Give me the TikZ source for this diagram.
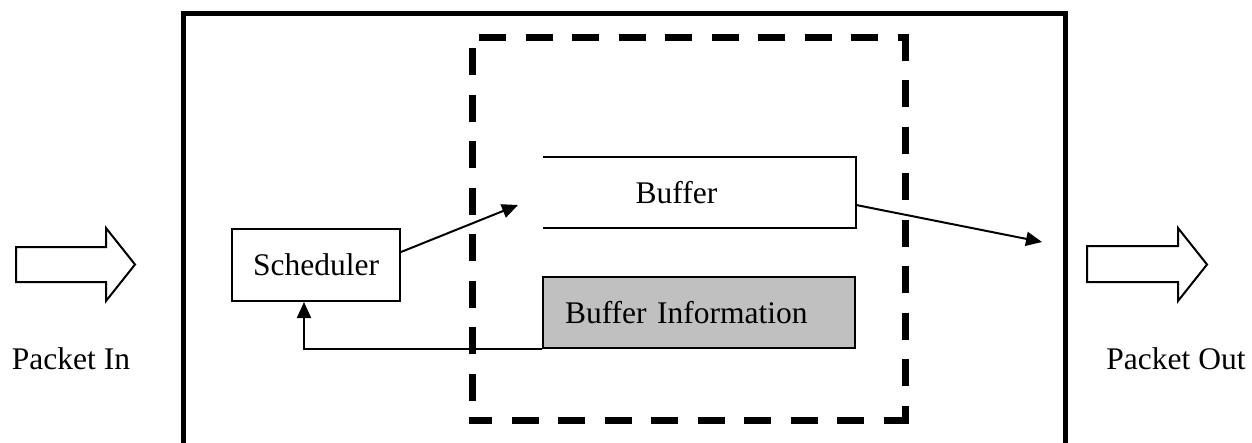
\documentclass[tikz,border=0pt]{standalone}
\usepackage{fontspec}
\setmainfont{Liberation Serif}
\usetikzlibrary{arrows.meta,calc}
\definecolor{infogray}{HTML}{C0C0C0}
\begin{document}
\begin{tikzpicture}[x=1pt,y=-1pt,
  every node/.style={font=\fontsize{31.5}{38}\selectfont, inner sep=0pt},
  thinline/.style={line width=2pt},
  boxed/.style={draw, line width=2pt},
  link/.style={line width=2pt, -{Triangle[length=16pt,width=14pt]}},
  blockarrow/.style={draw, line width=2pt, line join=miter, fill=white},
  bigdash/.style={line width=7pt, dash pattern=on 27pt off 19.5pt}]
\useasboundingbox (0,0) rectangle (1252,442);
\clip (0,0) rectangle (1252,442);

% outer system border (runs past the lower edge)
\draw[line width=5pt] (183,460) -- (183,13) -- (1065,13) -- (1065,460);

% dashed enclosure around the buffer part, one side at a time
\coordinate (dtl) at (472,37);
\coordinate (dtr) at (905,37);
\coordinate (dbr) at (905,420);
\coordinate (dbl) at (472,420);
\draw[bigdash, dash phase=36pt] ([xshift=-3.5pt]dtl) -- ([xshift=3.5pt]dtr);
\draw[bigdash] ([yshift=3.5pt]dtr) -- ([yshift=-3.5pt]dbr);
\draw[bigdash, dash phase=3.5pt] ([xshift=-3.5pt]dbl) -- ([xshift=3.5pt]dbr);
\draw[bigdash, dash phase=27pt] (dbl) -- (dtl);

% input and output block arrows
\draw[blockarrow] (16,247) -- (106,247) -- (106,228) -- (135,264.5)
  -- (106,301) -- (106,282) -- (16,282) -- cycle;
\draw[blockarrow] (1087,246) -- (1178,246) -- (1178,228) -- (1207,264.5)
  -- (1178,301) -- (1178,282) -- (1087,282) -- cycle;
\node (pin)  at (71,359) {Packet In};
\node (pout) at (1176,359) {Packet Out};

% scheduler
\node[boxed, minimum width=168pt, minimum height=72pt] (sched) at (316,265) {Scheduler};

% buffer: open on its left side
\node[minimum width=313pt, minimum height=71pt] (buf) at (699.5,192.5) {};
\draw[thinline] (buf.north west) -- (buf.north east) -- (buf.south east) -- (buf.south west);
\node (buflabel) at (676.5,192.5) {Buffer};

% buffer information
\node[boxed, fill=infogray, minimum width=312pt, minimum height=71pt,
      text width=268pt, align=left, inner xsep=22pt] (info) at (699,312.5) {Buffer Information};

% connectors
\coordinate (bufin) at (518,205);
\coordinate (bufout) at (1042,242);
\draw[link] ([yshift=13pt]sched.east) -- (bufin);
\draw[link] ([yshift=-12.5pt]buf.east) -- (bufout);
\draw[link] (info.south west) -| ([xshift=-12pt]sched.south);
\end{tikzpicture}
\end{document}
